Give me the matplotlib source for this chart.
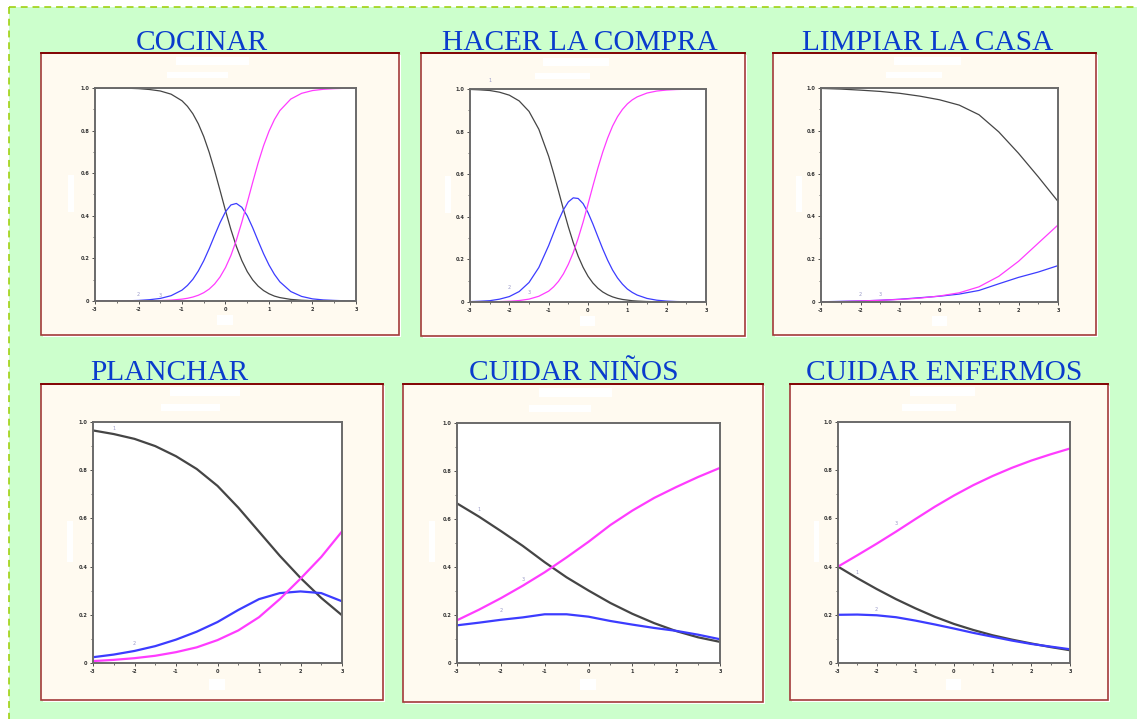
import numpy as np
import matplotlib.pyplot as plt
from matplotlib.patches import Rectangle
from matplotlib.lines import Line2D
from matplotlib.ticker import MultipleLocator

# size of the reference picture in pixels
W, H = 1137, 719

titles = ["COCINAR", "HACER LA COMPRA", "LIMPIAR LA CASA",
          "PLANCHAR", "CUIDAR NIÑOS", "CUIDAR ENFERMOS"]

# theta grid: dense in the middle for the two steep items, half steps for the others
x_fine = [-3, -2.75, -2.5, -2.25, -2, -1.75, -1.5, -1.25, -1.0, -0.875, -0.75, -0.625, -0.5,
          -0.375, -0.25, -0.125, 0, 0.125, 0.25, 0.375, 0.5, 0.625, 0.75, 0.875, 1.0, 1.125,
          1.25, 1.5, 1.75, 2, 2.25, 2.5, 2.75, 3]
x_half = [-3, -2.5, -2, -1.5, -1, -0.5, 0, 0.5, 1, 1.5, 2, 2.5, 3]

# category 1 (black), category 2 (blue), category 3 (magenta)
cocinar_c1 = [1.0, 1.0, 0.999, 0.999, 0.997, 0.993, 0.986, 0.971, 0.940, 0.914, 0.879, 0.832, 0.772,
              0.698, 0.612, 0.519, 0.424, 0.335, 0.256, 0.190, 0.138, 0.099, 0.070, 0.049, 0.034,
              0.023, 0.016, 0.0075, 0.0035, 0.0016, 0.0008, 0.0003, 0.0002, 0.0001]
cocinar_c2 = [0.0, 0.0, 0.001, 0.001, 0.0026, 0.006, 0.012, 0.025, 0.051, 0.073, 0.102, 0.141, 0.189,
              0.246, 0.308, 0.368, 0.419, 0.451, 0.458, 0.440, 0.400, 0.344, 0.282, 0.222, 0.169,
              0.125, 0.090, 0.0445, 0.0215, 0.010, 0.005, 0.0027, 0.001, 0.0005]
cocinar_c3 = [0.0, 0.0, 0.0001, 0.0002, 0.0004, 0.0009, 0.0019, 0.0041, 0.0088, 0.0127, 0.0186, 0.027,
              0.039, 0.056, 0.080, 0.113, 0.157, 0.214, 0.286, 0.370, 0.462, 0.557, 0.648, 0.729,
              0.797, 0.852, 0.894, 0.948, 0.975, 0.988, 0.994, 0.997, 0.9988, 0.9994]

compra_c1 = [0.998, 0.996, 0.993, 0.985, 0.971, 0.944, 0.895, 0.811, 0.684, 0.605, 0.521, 0.435, 0.353,
             0.279, 0.215, 0.163, 0.121, 0.089, 0.065, 0.047, 0.034, 0.024, 0.017, 0.012, 0.009,
             0.006, 0.0044, 0.0022, 0.0011, 0.0006, 0.0003, 0.0001, 0.0, 0.0]
compra_c2 = [0.0018, 0.0036, 0.0061, 0.0133, 0.0255, 0.049, 0.0915, 0.162, 0.265, 0.324, 0.382, 0.433,
             0.470, 0.489, 0.486, 0.462, 0.420, 0.366, 0.307, 0.249, 0.196, 0.150, 0.113, 0.084,
             0.061, 0.045, 0.0326, 0.0168, 0.0084, 0.0042, 0.0021, 0.0011, 0.0006, 0.0003]
compra_c3 = [0.0002, 0.0004, 0.0009, 0.0017, 0.0035, 0.0068, 0.0135, 0.027, 0.051, 0.071, 0.097, 0.132,
             0.177, 0.232, 0.299, 0.375, 0.459, 0.545, 0.628, 0.704, 0.770, 0.826, 0.870, 0.904,
             0.930, 0.949, 0.963, 0.981, 0.9905, 0.9952, 0.9976, 0.9988, 0.9994, 0.9997]

limpiar_c1 = [0.998, 0.995, 0.99, 0.984, 0.975, 0.962, 0.945, 0.92, 0.875, 0.795, 0.695, 0.585, 0.47]
limpiar_c2 = [0.001, 0.003, 0.005, 0.008, 0.013, 0.02, 0.027, 0.037, 0.054, 0.085, 0.115, 0.14, 0.17]
limpiar_c3 = [0.001, 0.002, 0.005, 0.008, 0.012, 0.018, 0.028, 0.043, 0.071, 0.12, 0.19, 0.275, 0.36]

planchar_c1 = [0.965, 0.95, 0.93, 0.90, 0.858, 0.805, 0.735, 0.645, 0.545, 0.445, 0.353, 0.27, 0.198]
planchar_c2 = [0.024, 0.035, 0.05, 0.07, 0.097, 0.13, 0.17, 0.22, 0.265, 0.29, 0.297, 0.29, 0.256]
planchar_c3 = [0.008, 0.013, 0.02, 0.03, 0.045, 0.065, 0.095, 0.135, 0.19, 0.265, 0.35, 0.44, 0.546]

ninos_c1 = [0.665, 0.61, 0.55, 0.488, 0.42, 0.357, 0.302, 0.25, 0.205, 0.166, 0.133, 0.107, 0.088]
ninos_c2 = [0.157, 0.168, 0.18, 0.19, 0.203, 0.203, 0.193, 0.175, 0.16, 0.146, 0.134, 0.118, 0.099]
ninos_c3 = [0.178, 0.222, 0.27, 0.322, 0.378, 0.44, 0.505, 0.575, 0.635, 0.688, 0.733, 0.775, 0.813]

enfermos_c1 = [0.40, 0.352, 0.307, 0.265, 0.227, 0.192, 0.162, 0.137, 0.115, 0.097, 0.081, 0.066, 0.053]
enfermos_c2 = [0.20, 0.201, 0.198, 0.19, 0.176, 0.16, 0.143, 0.125, 0.109, 0.093, 0.079, 0.068, 0.057]
enfermos_c3 = [0.40, 0.447, 0.495, 0.545, 0.597, 0.648, 0.695, 0.738, 0.776, 0.81, 0.84, 0.866, 0.89]

xs = [x_fine, x_fine, x_half, x_half, x_half, x_half]
curves = [(cocinar_c1, cocinar_c2, cocinar_c3),
          (compra_c1, compra_c2, compra_c3),
          (limpiar_c1, limpiar_c2, limpiar_c3),
          (planchar_c1, planchar_c2, planchar_c3),
          (ninos_c1, ninos_c2, ninos_c3),
          (enfermos_c1, enfermos_c2, enfermos_c3)]

# little category numbers next to the curves: (text, theta, prob)
curve_labels = [
    [("2", -2.0, 0.03), ("3", -1.5, 0.025)],
    [("1", -2.5, 1.04), ("2", -2.0, 0.07), ("3", -1.5, 0.046)],
    [("2", -2.0, 0.036), ("3", -1.5, 0.036)],
    [("1", -2.5, 0.975), ("2", -2.0, 0.08)],
    [("1", -2.5, 0.64), ("2", -2.0, 0.217), ("3", -1.5, 0.346)],
    [("1", -2.5, 0.375), ("2", -2.0, 0.22), ("3", -1.5, 0.58)],
]

# layout in pixels: (left, top, right, bottom)
card_boxes = [(41, 53, 399, 335), (421, 53, 745, 336), (773, 53, 1096, 335),
              (41, 384, 383, 700), (403, 384, 763, 702), (790, 384, 1108, 700)]
plot_boxes = [(95, 88, 356, 301), (470, 89, 706, 302), (821, 88, 1058, 302),
              (93, 422, 342, 663), (457, 423, 720, 663), (838, 422, 1070, 663)]
title_pos = [(202, 50), (580, 50), (928, 50), (169, 380), (574, 380), (944, 380)]
line_widths = [0.9, 0.9, 0.9, 1.6, 1.6, 1.6]

col_c1, col_c2, col_c3 = "#454545", "#3c3cff", "#ff3cff"


def fig_rect(l, t, r, b):
    return [l / W, 1 - b / H, (r - l) / W, (b - t) / H]


fig = plt.figure(figsize=(W / 100, H / 100), dpi=100)
fig.patch.set_facecolor("white")

# green page with dashed border on top and left
fig.patches.append(Rectangle((9 / W, 0), 1 - 9 / W, 1 - 7 / H, transform=fig.transFigure,
                             facecolor="#ccffcc", edgecolor="none", zorder=0))
dash = (0, (4.5, 3.2))
fig.lines.append(Line2D([9 / W, 1], [1 - 7 / H, 1 - 7 / H], transform=fig.transFigure,
                        color="#9acd00", lw=1.1, linestyle=dash, zorder=1))
fig.lines.append(Line2D([9 / W, 9 / W], [1 - 7 / H, 0], transform=fig.transFigure,
                        color="#9acd00", lw=1.1, linestyle=dash, zorder=1))

for i in range(6):
    l, t, r, b = card_boxes[i]
    # white shadow, then the cream card
    rs = fig_rect(l + 2, t + 2, r + 2, b + 2)
    fig.patches.append(Rectangle((rs[0], rs[1]), rs[2], rs[3], transform=fig.transFigure,
                                 facecolor="white", edgecolor="none", zorder=1))
    rc = fig_rect(l, t, r, b)
    fig.patches.append(Rectangle((rc[0], rc[1]), rc[2], rc[3], transform=fig.transFigure,
                                 facecolor="#fffaf0", edgecolor="#a33a3a", lw=1.2, zorder=2))
    fig.lines.append(Line2D([l / W, r / W], [1 - t / H, 1 - t / H], transform=fig.transFigure,
                            color="#800000", lw=1.3, zorder=3))

    fig.text(title_pos[i][0] / W, 1 - title_pos[i][1] / H, titles[i], ha="center", va="baseline",
             fontsize=21.2, color="#0a3ccc", family="Liberation Serif")

    ax = fig.add_axes(fig_rect(*plot_boxes[i]))
    ax.set_zorder(10)
    ax.set_facecolor("white")
    c1, c2, c3 = curves[i]
    lw = line_widths[i]
    ax.plot(xs[i], c1, color=col_c1, lw=lw)
    ax.plot(xs[i], c2, color=col_c2, lw=lw)
    ax.plot(xs[i], c3, color=col_c3, lw=lw)
    for txt, tx, ty in curve_labels[i]:
        ax.text(tx, ty, txt, fontsize=3.5, color="#9a9ac8", ha="center", va="center", clip_on=False)

    ax.set_xlim(-3, 3)
    ax.set_ylim(0, 1)
    ax.set_xticks([-3, -2, -1, 0, 1, 2, 3])
    ax.set_xticklabels(["-3", "-2", "-1", "0", "1", "2", "3"])
    ax.set_yticks([0, 0.2, 0.4, 0.6, 0.8, 1.0])
    ax.set_yticklabels(["0", "0.2", "0.4", "0.6", "0.8", "1.0"])
    ax.xaxis.set_minor_locator(MultipleLocator(0.5))
    ax.yaxis.set_minor_locator(MultipleLocator(0.1))
    ax.tick_params(which="major", length=2.5, width=0.6, pad=1.5, labelsize=3.6, colors="#333333")
    ax.tick_params(which="minor", length=1.5, width=0.5, colors="#333333")
    for lab in ax.get_xticklabels() + ax.get_yticklabels():
        lab.set_fontweight("bold")
    for s in ax.spines.values():
        s.set_color("#6a6a6a")
        s.set_linewidth(1.4)

    # white blanked-out boxes left over in the source picture
    for bx, by, bw, bh in [(0.31, 1.108, 0.28, 0.038), (0.275, 1.047, 0.235, 0.028),
                           (-0.105, 0.42, 0.023, 0.17), (0.467, -0.113, 0.063, 0.047)]:
        ax.add_patch(Rectangle((bx, by), bw, bh, transform=ax.transAxes, facecolor="white",
                               edgecolor="none", clip_on=False, zorder=1))

fig.savefig("out.png", dpi=100)
